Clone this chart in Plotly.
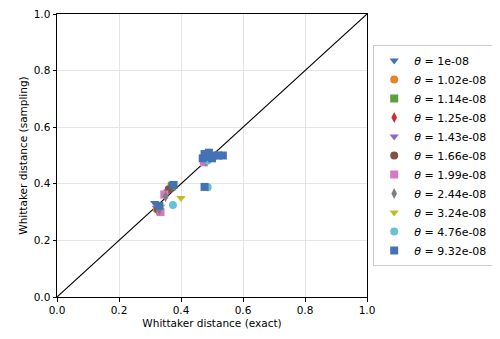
import plotly.graph_objects as go

thetas = ["1e-08", "1.02e-08", "1.14e-08", "1.25e-08", "1.43e-08", "1.66e-08",
          "1.99e-08", "2.44e-08", "3.24e-08", "4.76e-08", "9.32e-08"]

exact = [
    [0.315, 0.372, 0.480],
    [0.322, 0.362, 0.482],
    [0.330, 0.370, 0.483],
    [0.322, 0.366, 0.480],
    [0.320, 0.356, 0.476],
    [0.326, 0.360, 0.478],
    [0.334, 0.346, 0.474],
    [0.330, 0.350, 0.480],
    [0.336, 0.400, 0.486],
    [0.374, 0.486, 0.486],
    [0.330, 0.376, 0.476, 0.470, 0.476, 0.490, 0.490, 0.505, 0.520, 0.535, 0.500],
]
sampling = [
    [0.332, 0.400, 0.500],
    [0.310, 0.382, 0.490],
    [0.312, 0.390, 0.490],
    [0.310, 0.386, 0.488],
    [0.315, 0.372, 0.480],
    [0.310, 0.380, 0.480],
    [0.300, 0.362, 0.476],
    [0.308, 0.355, 0.480],
    [0.320, 0.350, 0.480],
    [0.325, 0.388, 0.482],
    [0.322, 0.396, 0.389, 0.490, 0.505, 0.510, 0.495, 0.500, 0.500, 0.500, 0.490],
]

colors = ["#4572b5", "#e8832a", "#5a9f3c", "#c7302f", "#8f6bbd", "#7f5448",
          "#d27bc0", "#7f7f7f", "#bcbd22", "#6cc0d4", "#4472b4"]
symbols = ["triangle-down", "circle", "square", "diamond-tall", "triangle-down", "circle",
           "square", "diamond-tall", "triangle-down", "circle", "square"]

fig = go.Figure()
fig.add_trace(go.Scatter(x=[0, 1], y=[0, 1], mode="lines",
                         line=dict(color="black", width=1.1), showlegend=False,
                         hoverinfo="skip"))
for t, xs, ys, c, s in zip(thetas, exact, sampling, colors, symbols):
    fig.add_trace(go.Scatter(x=xs, y=ys, mode="markers", name=f"<i>θ</i> = {t}",
                             marker=dict(color=c, symbol=s, size=8, line=dict(width=0))))

axis_common = dict(range=[0, 1], dtick=0.2, tickformat=".1f", showline=True,
                   linecolor="black", linewidth=1, mirror=True, ticks="outside",
                   ticklen=3.5, tickcolor="black", showgrid=True,
                   gridcolor="#e5e5e5", gridwidth=1, zeroline=False,
                   automargin=False, ticklabeloverflow="allow",
                   tickfont=dict(size=10.5, color="black"))
fig.update_xaxes(title=dict(text="Whittaker distance (exact)", font=dict(size=10.5), standoff=4),
                 **axis_common)
fig.update_yaxes(title=dict(text="Whittaker distance (sampling)", font=dict(size=10.5), standoff=4),
                 **axis_common)

fig.update_layout(
    width=500, height=331,
    margin=dict(l=49, r=141, t=6, b=42),
    plot_bgcolor="white", paper_bgcolor="white",
    font=dict(family="DejaVu Sans", size=10, color="black"),
    legend=dict(x=1.02, y=0.5, xanchor="left", yanchor="middle",
                bordercolor="#cccccc", borderwidth=1, bgcolor="white",
                font=dict(size=11), itemwidth=30, tracegroupgap=0),
)
fig.write_html("out.html")
